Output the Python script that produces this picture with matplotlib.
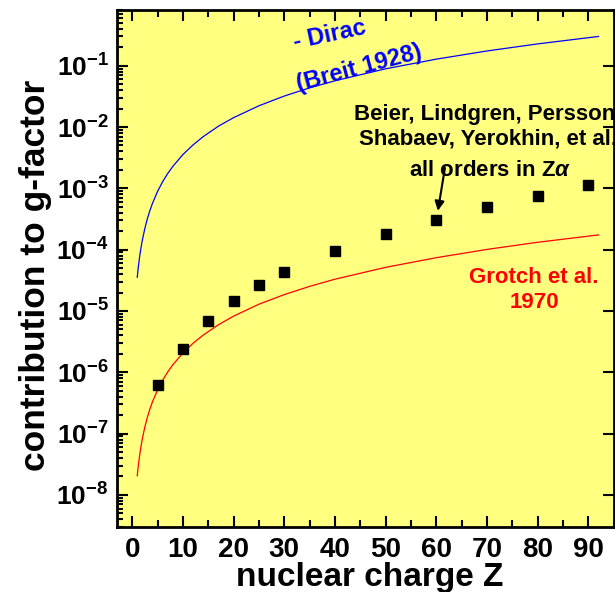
import matplotlib
matplotlib.use('Agg')
import matplotlib.pyplot as plt
from matplotlib.ticker import LogLocator, MultipleLocator, FixedLocator, NullFormatter

plt.rcParams['font.family'] = ['Liberation Sans', 'DejaVu Sans']
plt.rcParams['font.weight'] = 'bold'
plt.rcParams['mathtext.fontset'] = 'custom'
plt.rcParams['mathtext.rm'] = 'Liberation Sans:bold'
plt.rcParams['mathtext.bf'] = 'Liberation Sans:bold'
plt.rcParams['mathtext.it'] = 'Liberation Sans:bold:italic'

# Curves (nuclear charge Z vs contribution)
z_curve = [1, 1.25, 1.5, 1.75, 2, 2.5, 3, 3.5, 4, 5, 6, 7, 8, 10, 12, 14, 17,
           20, 25, 30, 35, 40, 50, 60, 70, 80, 92]
dirac = [3.55e-5, 5.55e-5, 8.0e-5, 1.09e-4, 1.42e-4, 2.22e-4, 3.2e-4, 4.35e-4,
         5.68e-4, 8.9e-4, 1.28e-3, 1.74e-3, 2.27e-3, 3.55e-3, 5.1e-3, 6.96e-3,
         1.03e-2, 1.42e-2, 2.22e-2, 3.2e-2, 4.35e-2, 5.68e-2, 8.9e-2, 0.128,
         0.174, 0.227, 0.300]
grotch = [2.06e-8, 3.2e-8, 4.6e-8, 6.3e-8, 8.2e-8, 1.29e-7, 1.85e-7, 2.52e-7,
          3.3e-7, 5.15e-7, 7.4e-7, 1.01e-6, 1.32e-6, 2.06e-6, 2.97e-6, 4.04e-6,
          5.95e-6, 8.24e-6, 1.29e-5, 1.85e-5, 2.52e-5, 3.3e-5, 5.15e-5, 7.4e-5,
          1.01e-4, 1.32e-4, 1.74e-4]

# all-order calculations (squares)
z_pts = [5, 10, 15, 20, 25, 30, 40, 50, 60, 70, 80, 90]
allorder = [6.1e-7, 2.43e-6, 6.8e-6, 1.44e-5, 2.63e-5, 4.28e-5, 9.4e-5,
            1.77e-4, 3.08e-4, 4.88e-4, 7.55e-4, 1.13e-3]

xticks = [0, 10, 20, 30, 40, 50, 60, 70, 80, 90]
ydecades = [1e-8, 1e-7, 1e-6, 1e-5, 1e-4, 1e-3, 1e-2, 1e-1]
ytick_labels = [r'$10^{-8}$', r'$10^{-7}$', r'$10^{-6}$', r'$10^{-5}$',
                r'$10^{-4}$', r'$10^{-3}$', r'$10^{-2}$', r'$10^{-1}$']

fig = plt.figure(figsize=(6.15, 5.92), dpi=100, facecolor='white')
ax = fig.add_axes([0.1902, 0.1098, 0.8078, 0.8733])
ax.set_facecolor('#ffff80')

ax.plot(z_curve, dirac, color='#0000ff', lw=0.9)
ax.plot(z_curve, grotch, color='#ff0000', lw=0.9)
ax.plot(z_pts, allorder, 's', color='black', markersize=7.2)

ax.set_yscale('log')
ax.set_xlim(-3, 95)
ax.set_ylim(3.0e-9, 0.81)

# ticks
ax.xaxis.set_major_locator(FixedLocator(xticks))
ax.xaxis.set_minor_locator(MultipleLocator(5))
ax.yaxis.set_major_locator(FixedLocator(ydecades))
ax.set_yticklabels(ytick_labels)
ax.yaxis.set_minor_locator(LogLocator(base=10, subs=range(2, 10), numticks=20))
ax.yaxis.set_minor_formatter(NullFormatter())
ax.tick_params(axis='both', which='both', direction='in', top=True, width=1.5)
ax.tick_params(axis='y', which='major', right=True, length=8)
ax.tick_params(axis='y', which='minor', right=False, length=4)
ax.tick_params(axis='x', which='major', length=8, labelsize=20, pad=7)
ax.tick_params(axis='x', which='minor', length=5)
ax.tick_params(axis='y', which='major', labelsize=19, pad=6)
for lab in ax.get_xticklabels():
    lab.set_fontweight('bold')
for sp in ax.spines.values():
    sp.set_linewidth(2)

ax.set_xlabel('nuclear charge Z', fontsize=24, fontweight='bold')
ax.xaxis.label.set_verticalalignment('center')
ax.xaxis.set_label_coords(0.509, -0.097)
ax.set_ylabel('contribution to g-factor', fontsize=25.5, fontweight='bold')
ax.yaxis.label.set_verticalalignment('center')
ax.yaxis.set_label_coords(-0.165, 0.487)

# annotations
ax.text(38.9, 0.313, '- Dirac', color='#0000ff', fontsize=17, fontweight='bold',
        rotation=12, ha='center', va='center', rotation_mode='anchor')
ax.text(44.7, 0.091, '(Breit 1928)', color='#0000ff', fontsize=17,
        fontweight='bold', rotation=15, ha='center', va='center',
        rotation_mode='anchor')
ax.text(70.2, 1.0e-2, 'Beier, Lindgren, Persson,\nShabaev, Yerokhin, et al.',
        color='black', fontsize=16, fontweight='bold', ha='center',
        va='center', linespacing=1.2, clip_on=False)
ax.text(70.6, 1.93e-3, r'all orders in Z$\alpha$', color='black', fontsize=16,
        fontweight='bold', ha='center', va='center')
ax.annotate('', xy=(60.3, 4.3e-4), xytext=(61.7, 2.15e-3),
            arrowprops=dict(arrowstyle='-|>', color='black', lw=1.5,
                            mutation_scale=14, shrinkA=0, shrinkB=0))
ax.text(79.3, 2.24e-5, 'Grotch et al.\n1970', color='#ff0000', fontsize=16,
        fontweight='bold', ha='center', va='center', linespacing=1.25)

fig.savefig('out.png', dpi=100, facecolor='white')
